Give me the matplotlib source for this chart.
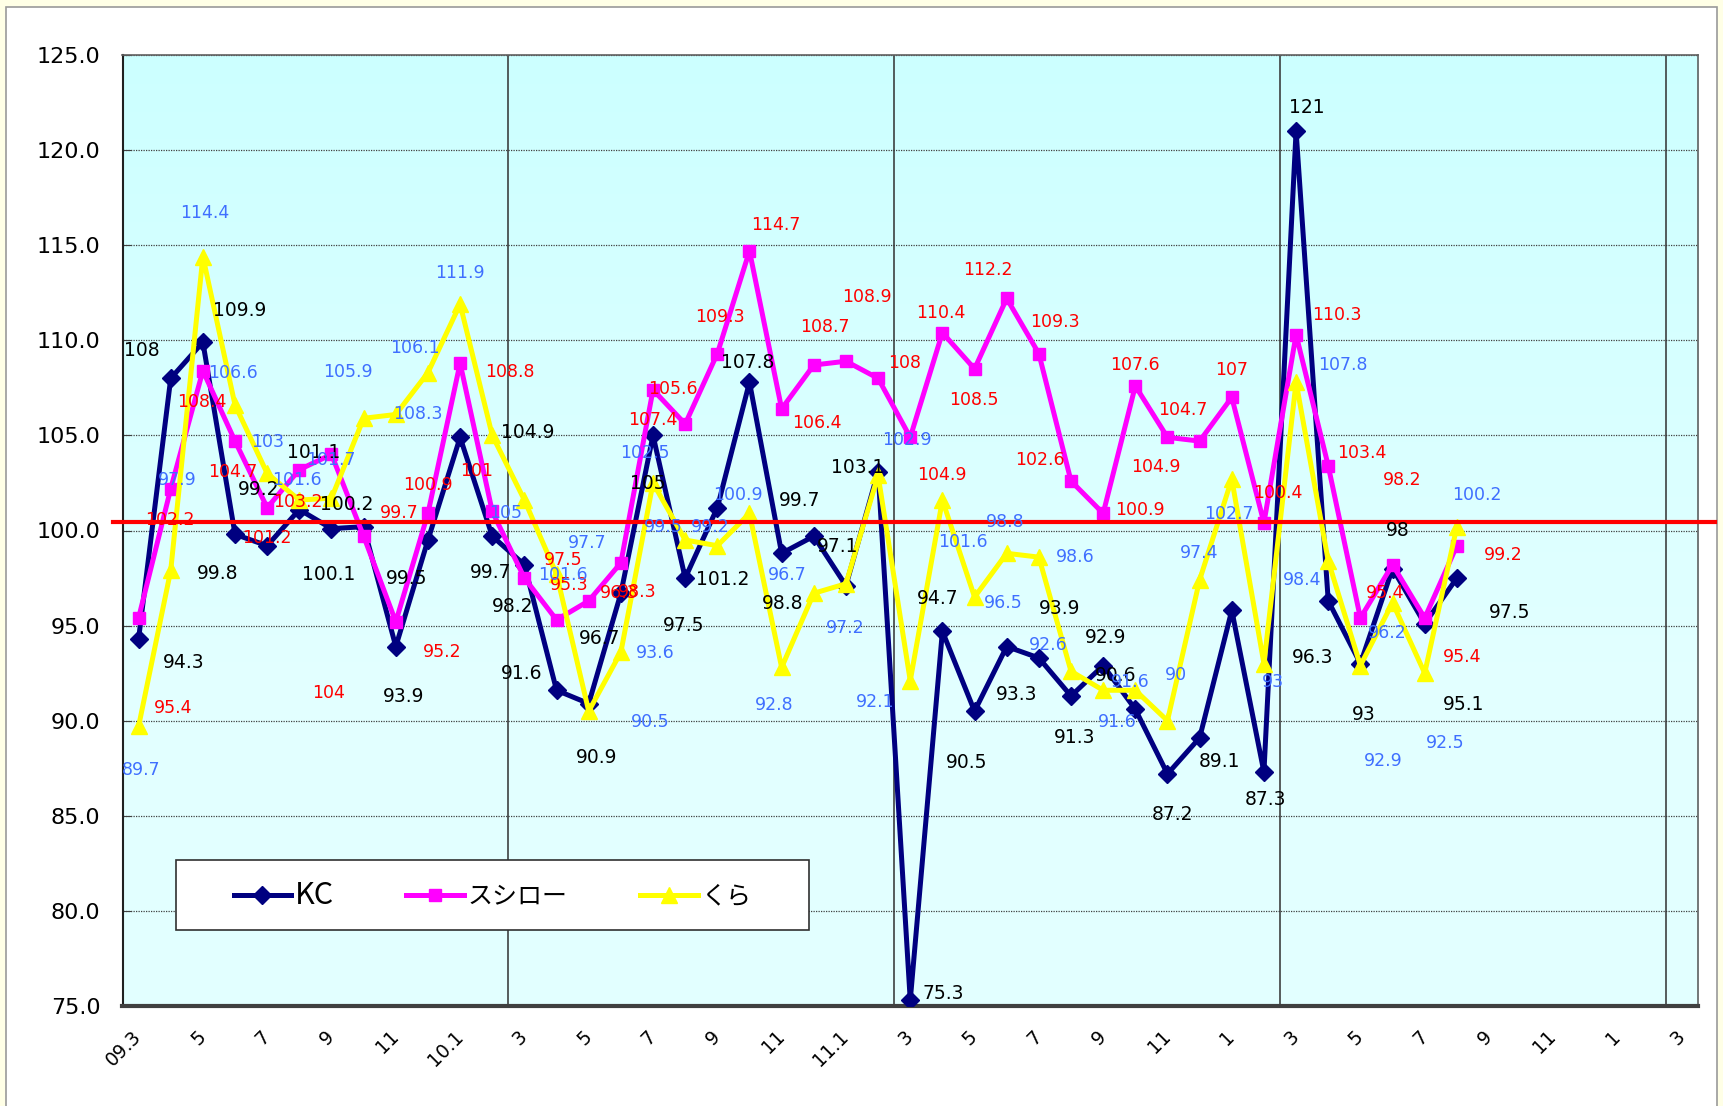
import numpy as np
import matplotlib
matplotlib.use('Agg')
import matplotlib.pyplot as plt
from matplotlib.lines import Line2D
from matplotlib.patches import Rectangle
import matplotlib.transforms as mtransforms

plt.rcParams['font.family'] = ['DejaVu Sans', 'Noto Sans CJK JP']

# ---------------- data ----------------
n_months = 49  # 09.3 .. 13.3
tick_labels = ["09.3", "5", "7", "9", "11", "10.1", "3", "5", "7", "9", "11", "11.1",
               "3", "5", "7", "9", "11", "1", "3", "5", "7", "9", "11", "1", "3"]
series_names = ["KC", "スシロー", "くら"]

kc = [94.3, 108, 109.9, 99.8, 99.2, 101.1, 100.1, 100.2, 93.9, 99.5,
      104.9, 99.7, 98.2, 91.6, 90.9, 96.7, 105, 97.5, 101.2, 107.8,
      98.8, 99.7, 97.1, 103.1, 75.3, 94.7, 90.5, 93.9, 93.3, 91.3,
      92.9, 90.6, 87.2, 89.1, 95.8, 87.3, 121, 96.3, 93, 98,
      95.1, 97.5]
sushiro = [95.4, 102.2, 108.4, 104.7, 101.2, 103.2, 104, 99.7, 95.2, 100.9,
           108.8, 101, 97.5, 95.3, 96.3, 98.3, 107.4, 105.6, 109.3, 114.7,
           106.4, 108.7, 108.9, 108, 104.9, 110.4, 108.5, 112.2, 109.3, 102.6,
           100.9, 107.6, 104.9, 104.7, 107, 100.4, 110.3, 103.4, 95.4, 98.2,
           95.4, 99.2]
kura = [89.7, 97.9, 114.4, 106.6, 103, 101.6, 101.7, 105.9, 106.1, 108.3,
        111.9, 105, 101.6, 97.7, 90.5, 93.6, 102.5, 99.5, 99.2, 100.9,
        92.8, 96.7, 97.2, 102.9, 92.1, 101.6, 96.5, 98.8, 98.6, 92.6,
        91.6, 91.6, 90, 97.4, 102.7, 93, 107.8, 98.4, 92.9, 96.2,
        92.5, 100.2]
baseline = 100.45

# label placement (pixel offsets right / down from each point; None = no label)
kc_lab_off = [(45, 24), (-29, -28), (37, -32), (-17, 39), (-9, -56), (14, -57), (-3, 46), (-17, -22), (8, 50), (-21, 38),
              (68, -5), (-2, 36), (-12, 42), (-35, -17), (8, 54), (-21, 45), (-5, 48), (-2, 47), (5, 72), (-2, -20),
              (1, 50), (-14, -36), (-8, -39), (-20, -4), (33, -7), (-5, -33), (-8, 51), (53, -38), (-22, 37), (4, 42),
              (2, -28), (-20, -34), (5, 41), (20, 24), None, (2, 27), (11, -24), (-16, 57), (3, 51), (5, -38),
              (39, 81), (53, 34)]
su_lab_off = [(35, 90), (-1, 31), (-1, 31), (-2, 31), (0, 30), (-1, 32), (-3, 239), (36, -23), (46, 30), (0, -28),
              (50, 9), (-16, -40), (39, -18), (13, -35), (31, -8), (16, 29), (0, 30), (-12, -35), (3, -37), (26, -26),
              (35, 14), (11, -38), (21, -64), (27, -15), (32, 38), (-2, -20), (-1, 31), (-19, -28), (16, -32), (-31, -21),
              (37, -3), (0, -21), (-12, 30), (-17, -31), (0, -27), (14, -30), (41, -20), (34, -13), (25, -25), (10, -85),
              (37, 39), (46, 9)]
ku_lab_off = [(3, 44), (7, -90), (2, -44), (-2, -32), (0, -31), (-2, -20), (-1, -38), (-16, -46), (19, -66), (-10, 41),
              (0, -31), (13, 78), (39, 75), (31, -31), (61, 11), (34, 1), (-8, -30), (-22, -13), (-7, -19), (-12, -18),
              (-7, 38), (-27, -18), (-1, 44), (29, -35), (-35, 21), (21, 42), (29, 6), (-2, -31), (36, 0), (-23, -26),
              (14, 32), (-5, -8), (8, -46), (-1, -27), (-3, 35), (9, 18), (47, -17), (-26, 19), (23, 95), (-5, 30),
              (20, 70), (20, -32)]

# ---------------- figure ----------------
W, H = 1723, 1106
fig = plt.figure(figsize=(W / 100, H / 100), dpi=100)
fig.patch.set_facecolor('#FFFFE6')
bg = Rectangle((6 / W, -0.01), (1717 - 6) / W, 1 - 7 / H + 0.01,
               transform=fig.transFigure, facecolor='white',
               edgecolor='#9A9A9A', lw=1.2, zorder=-10)
fig.add_artist(bg)

L, R, T, B = 122.5, 1698, 55, 1006
ax = fig.add_axes([L / W, 1 - B / H, (R - L) / W, (B - T) / H])
ax.set_zorder(1)
ax.set_facecolor('#E0FFFF')

# gradient plot area
g = np.linspace(0, 1, 256)[:, None, None]
top = np.array([0.80, 1.0, 1.0])
bot = np.array([0.89, 1.0, 1.0])
img = top + (bot - top) * np.clip(g * 1.5, 0, 1)
img = np.repeat(img, 2, axis=1)
ax.imshow(img, extent=[0, 1, 0, 1], transform=ax.transAxes, aspect='auto',
          zorder=0, origin='upper', interpolation='bilinear')

x = np.arange(len(kc))
ax.set_xlim(-0.5, n_months - 0.5)
ax.set_ylim(75, 125)
ax.set_autoscale_on(False)

# grid
ax.set_yticks(np.arange(75, 125.1, 5))
ax.yaxis.grid(True, linestyle=(0, (1, 1)), color='#404040', lw=0.9, zorder=1)
ax.set_axisbelow(True)
for b in [11.5, 23.5, 35.5, 47.5]:
    ax.axvline(b, color='#303030', lw=1.1, zorder=1)

# series
ax.plot(x, kc, color='#000080', lw=3.6, marker='D', ms=9, mfc='#000080', mec='#000080', zorder=3)
ax.plot(x, sushiro, color='#FF00FF', lw=3.6, marker='s', ms=8, mfc='#FF00FF', mec='#FF00FF', zorder=4)
ax.plot(x, kura, color='#FFFF00', lw=3.6, marker='^', ms=11, mfc='#FFFF00', mec='#FFFF00', zorder=5)

# reference line
trans = mtransforms.blended_transform_factory(ax.transAxes, ax.transData)
ax.plot([-0.006, 1.0105], [baseline, baseline], color='#FF0000', lw=3.0,
        transform=trans, clip_on=False, zorder=6)

# data labels
def put_labels(vals, offs, color, size):
    for i, (v, o) in enumerate(zip(vals, offs)):
        if o is None:
            continue
        ax.annotate(f"{v:g}", xy=(i, v), xytext=(o[0], -o[1]), textcoords='offset pixels',
                    ha='center', va='center', color=color, fontsize=size,
                    zorder=10, annotation_clip=False)

put_labels(kc, kc_lab_off, 'black', 13.5)
put_labels(sushiro, su_lab_off, '#FF0000', 12.5)
put_labels(kura, ku_lab_off, '#3F6FFF', 12.5)

# axes styling
ax.set_yticklabels([f"{v:.1f}" for v in np.arange(75, 125.1, 5)], fontsize=16)
ax.tick_params(axis='y', direction='in', length=6, pad=16, color='#404040')
ax.set_xticks(np.arange(0, n_months, 2))
ax.set_xticklabels(tick_labels, rotation=45, ha='right', va='center',
                   rotation_mode='anchor', fontsize=13.5)
ax.tick_params(axis='x', length=0, pad=20)
for s in ['top', 'right']:
    ax.spines[s].set_color('#606060')
    ax.spines[s].set_linewidth(1.2)
ax.spines['left'].set_color('#202020')
ax.spines['left'].set_linewidth(1.5)
ax.spines['bottom'].set_color('#404040')
ax.spines['bottom'].set_linewidth(3.0)

# legend box
lx0, ly0, lx1, ly1 = 176, 860, 809, 930
box = Rectangle((lx0 / W, 1 - ly1 / H), (lx1 - lx0) / W, (ly1 - ly0) / H,
                transform=fig.transFigure, facecolor='white',
                edgecolor='#303030', lw=1.2, zorder=20)
fig.add_artist(box)
handles = [Line2D([], [], color='#000080', lw=3.6, marker='D', ms=9),
           Line2D([], [], color='#FF00FF', lw=3.6, marker='s', ms=8),
           Line2D([], [], color='#FFFF00', lw=3.6, marker='^', ms=11)]
leg = fig.legend(handles, series_names, ncol=3, loc='center',
                 bbox_to_anchor=((lx0 + lx1) / 2 / W, 1 - (ly0 + ly1) / 2 / H),
                 frameon=False, prop={'family': ['Noto Sans CJK JP', 'DejaVu Sans'], 'size': 18},
                 handlelength=2.3, handletextpad=0.15, columnspacing=2.9, borderpad=0)
leg.get_texts()[0].set_fontsize(22)
leg.set_zorder(21)

fig.savefig('out.png', dpi=100, facecolor=fig.get_facecolor())
